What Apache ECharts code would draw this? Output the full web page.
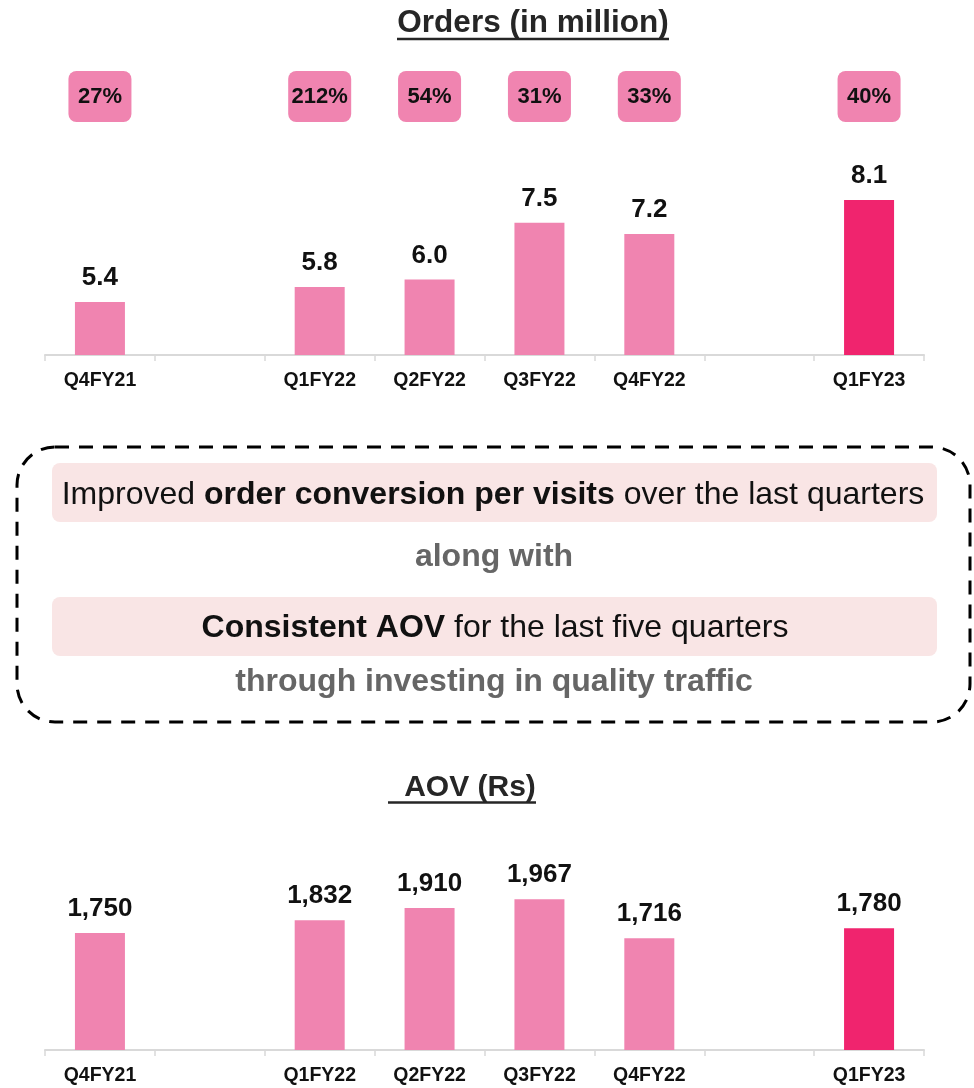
<!DOCTYPE html>
<html>
<head>
<meta charset="utf-8">
<script src="https://cdn.jsdelivr.net/npm/echarts@6.0.0/dist/echarts.min.js"></script>
<style>
  html, body { margin: 0; padding: 0; background: #fff; }
  #chart { width: 974px; height: 1088px; }
</style>
</head>
<body>
<div id="chart"></div>
<script>
"use strict";

// Categories (blank slots are spacer columns in the original slide)
const quarters = ["Q4FY21", "", "Q1FY22", "Q2FY22", "Q3FY22", "Q4FY22", "", "Q1FY23"];
// Orders in million
const orders = [5.4, null, 5.8, 6.0, 7.5, 7.2, null, 8.1];
// YoY growth badges above the orders bars
const orderGrowth = ["27%", "", "212%", "54%", "31%", "33%", "", "40%"];
// Average order value, Rs
const aov = [1750, null, 1832, 1910, 1967, 1716, null, 1780];
const highlight = "Q1FY23";

const FONT = "'Liberation Sans', Arial, sans-serif";
const PINK = "#F084B0";
const HOT = "#F0246E";
const INK = "#111";

const barData = (vals) => vals.map((v, i) => v == null ? "-" : {
  value: v,
  itemStyle: { color: quarters[i] === highlight ? HOT : PINK },
});

const catAxis = (gridIndex) => ({
  type: "category", gridIndex, data: quarters,
  axisLine: { lineStyle: { color: "#D9D9D9", width: 2 } },
  axisTick: { show: true, length: 6, lineStyle: { color: "#D9D9D9", width: 1.5 } },
  axisLabel: { interval: 0, margin: 16, color: INK, fontFamily: FONT, fontWeight: "bold", fontSize: 19.5 },
});

const valueLabel = (fmt) => ({
  show: true, position: "top", distance: 11,
  color: INK, fontFamily: FONT, fontWeight: "bold", fontSize: 26,
  formatter: (p) => fmt(p.value),
});

const chart = echarts.init(document.getElementById("chart"), null, { renderer: "canvas" });

chart.setOption({
  animation: false,
  backgroundColor: "#fff",
  textStyle: { fontFamily: FONT },
  grid: [
    { left: 45, width: 879, top: 166, height: 189 },
    { left: 45, width: 879, top: 816, height: 234 },
  ],
  xAxis: [
    catAxis(0),
    {
      type: "category", gridIndex: 0, position: "top", data: orderGrowth,
      axisLine: { show: false }, axisTick: { show: false },
      axisLabel: {
        interval: 0, margin: 44,
        formatter: (v) => v ? "{b|" + v + "}" : "",
        rich: {
          b: {
            backgroundColor: PINK, borderRadius: 8, width: 63, height: 51, lineHeight: 51,
            align: "center", color: INK, fontFamily: FONT, fontWeight: "bold", fontSize: 22,
          },
        },
      },
    },
    catAxis(1),
  ],
  yAxis: [
    { type: "value", gridIndex: 0, min: 4, max: 9, show: false },
    { type: "value", gridIndex: 1, min: 1000, max: 2500, show: false },
  ],
  series: [
    {
      type: "bar", xAxisIndex: 0, yAxisIndex: 0, barWidth: 50,
      data: barData(orders),
      label: valueLabel((v) => v.toFixed(1)),
    },
    {
      type: "bar", xAxisIndex: 2, yAxisIndex: 1, barWidth: 50,
      data: barData(aov),
      label: valueLabel((v) => v.toLocaleString("en-US")),
    },
  ],
  graphic: [
    // chart titles with underline
    { type: "text", style: { text: "Orders (in million)", x: 533, y: 23, align: "center", verticalAlign: "middle",
        font: "bold 31.5px " + FONT, fill: "#262626" } },
    { type: "line", shape: { x1: 397, y1: 39, x2: 669, y2: 39 }, style: { stroke: "#262626", lineWidth: 2.5 } },
    { type: "text", style: { text: "AOV (Rs)", x: 470, y: 788, align: "center", verticalAlign: "middle",
        font: "bold 30px " + FONT, fill: "#262626" } },
    { type: "line", shape: { x1: 388, y1: 802.5, x2: 536, y2: 802.5 }, style: { stroke: "#262626", lineWidth: 2.5 } },

    // commentary box
    { type: "rect", shape: { x: 17, y: 447, width: 953, height: 275, r: 38 },
      style: { fill: "none", stroke: "#000", lineWidth: 3, lineDash: [14, 10] } },
    { type: "rect", shape: { x: 52, y: 463, width: 885, height: 59, r: 8 }, style: { fill: "#F9E5E5" } },
    { type: "rect", shape: { x: 52, y: 597, width: 885, height: 59, r: 8 }, style: { fill: "#F9E5E5" } },
    { type: "text", style: {
        text: "{r|Improved }{b|order conversion per visits}{r| over the last quarters}",
        x: 493, y: 495, align: "center", verticalAlign: "middle",
        rich: {
          r: { fontFamily: FONT, fontSize: 32, fill: "#111" },
          b: { fontFamily: FONT, fontSize: 32, fontWeight: "bold", fill: "#111" },
        } } },
    { type: "text", style: { text: "along with", x: 494, y: 557, align: "center", verticalAlign: "middle",
        font: "bold 32px " + FONT, fill: "#666" } },
    { type: "text", style: {
        text: "{b|Consistent AOV}{r| for the last five quarters}",
        x: 495, y: 628, align: "center", verticalAlign: "middle",
        rich: {
          r: { fontFamily: FONT, fontSize: 32, fill: "#111" },
          b: { fontFamily: FONT, fontSize: 32, fontWeight: "bold", fill: "#111" },
        } } },
    { type: "text", style: { text: "through investing in quality traffic", x: 494, y: 682, align: "center", verticalAlign: "middle",
        font: "bold 32px " + FONT, fill: "#666" } },
  ],
});
</script>
</body>
</html>
